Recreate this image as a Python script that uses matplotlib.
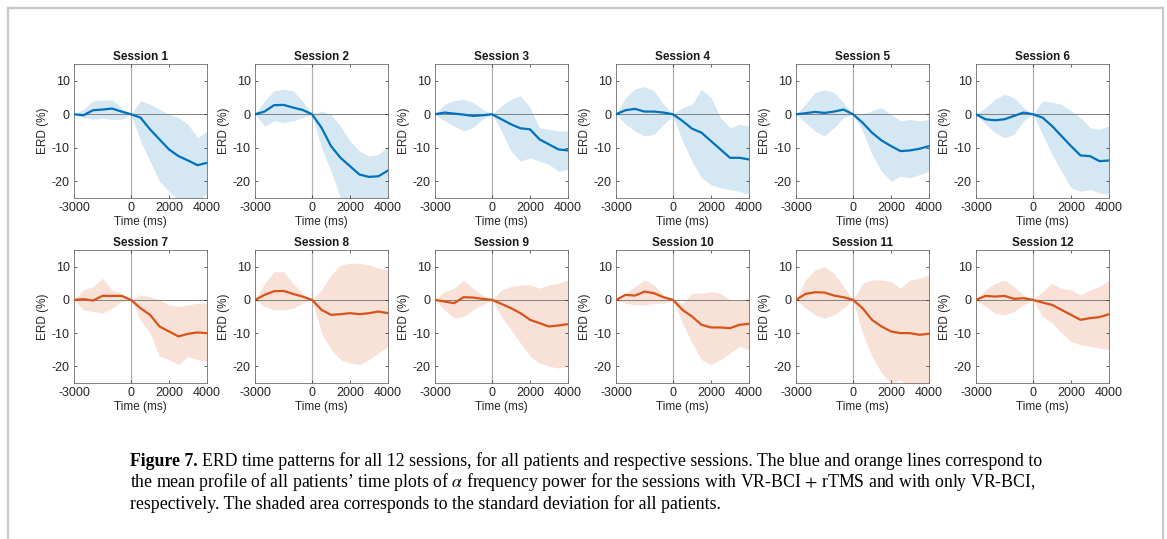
import numpy as np
import matplotlib
matplotlib.use("Agg")
import matplotlib.pyplot as plt
from matplotlib.lines import Line2D

# time axis of the ERD traces (ms)
time_ms = [-3000, -2500, -2000, -1500, -1000, -500, 0, 500,
           1000, 1500, 2000, 2500, 3000, 3500, 4000]

# mean ERD (%) per session
mean_erd = {
    1: [0, -0.3, 1.2, 1.4, 1.7, 0.8, 0, -1.0, -4.5, -7.5, -10.5, -12.5, -13.8, -15.2, -14.5],
    2: [0, 0.8, 2.7, 2.8, 2.0, 1.3, 0, -4.0, -9.5, -13.0, -15.5, -18.0, -18.7, -18.5, -16.8],
    3: [0, 0.5, 0.2, -0.1, -0.5, -0.3, 0, -1.5, -3.0, -4.2, -4.5, -7.5, -9.0, -10.5, -10.8],
    4: [0, 1.2, 1.6, 0.8, 0.8, 0.5, 0, -2.0, -4.3, -5.5, -8.0, -10.5, -13.0, -13.0, -13.5],
    5: [0, 0.3, 0.7, 0.4, 0.8, 1.4, 0, -2.5, -5.5, -7.8, -9.5, -11.0, -10.8, -10.3, -9.5],
    6: [0, -1.5, -1.8, -1.5, -0.5, 0.5, 0, -1.0, -3.5, -6.5, -9.5, -12.3, -12.5, -14.0, -13.8],
    7: [0, 0.2, -0.2, 1.2, 1.2, 1.2, 0, -2.5, -4.5, -8.0, -9.5, -11.0, -10.2, -9.8, -10.0],
    8: [0, 1.5, 2.6, 2.7, 1.8, 1.0, 0, -3.0, -4.5, -4.3, -4.0, -4.3, -4.0, -3.5, -4.0],
    9: [0, -0.5, -1.0, 0.8, 0.7, 0.3, 0, -1.2, -2.5, -4.0, -6.0, -7.0, -8.0, -7.7, -7.3],
    10: [0, 1.5, 1.3, 2.5, 2.0, 0.8, 0, -3.0, -5.0, -7.5, -8.3, -8.3, -8.5, -7.5, -7.2],
    11: [0, 1.8, 2.3, 2.2, 1.3, 0.8, 0, -2.5, -6.0, -8.0, -9.5, -10.0, -10.0, -10.5, -10.2],
    12: [0, 1.2, 1.0, 1.2, 0.3, 0.5, 0, -0.8, -1.5, -3.0, -4.5, -6.0, -5.5, -5.2, -4.3],
}

# upper / lower edge of the standard deviation band
upper_erd = {
    1: [0, 1.5, 4.0, 4.2, 4.3, 2.0, 0, 4.0, 3.0, 1.5, 0, -1.0, -3.0, -7.0, -5.0],
    2: [0, 4.0, 7.0, 7.5, 7.0, 4.0, 0, 1.0, 0, -3.5, -8.0, -11.0, -12.5, -12.0, -9.5],
    3: [0, 3.0, 4.0, 4.5, 3.5, 1.5, 0, 2.5, 4.5, 5.5, 2.0, -4.0, -4.5, -5.0, -5.0],
    4: [0, 5.0, 7.5, 8.3, 7.0, 3.0, 0, 2.0, 3.0, 7.5, 5.0, -1.0, -4.0, -3.0, -3.5],
    5: [0, 3.0, 6.5, 7.3, 6.5, 3.5, 0, 0, 1.0, 2.0, 0, -2.0, -1.5, -2.0, -1.5],
    6: [0, 2.0, 4.5, 6.0, 5.0, 2.0, 0, 4.0, 3.5, 3.0, 1.0, -1.0, -4.0, -4.5, -3.5],
    7: [0, 3.0, 4.0, 6.5, 3.0, 2.0, 0, 1.5, 1.0, 0, -1.5, -2.0, -1.5, -1.0, -1.0],
    8: [0, 5.0, 8.5, 8.5, 5.0, 2.0, 0, 3.0, 7.5, 10.5, 11.0, 11.0, 10.5, 9.5, 9.0],
    9: [0, 2.5, 3.5, 6.0, 3.5, 1.5, 0, 3.0, 4.0, 4.5, 4.5, 3.5, 4.5, 5.0, 6.0],
    10: [0, 2.0, 4.0, 6.0, 4.5, 1.5, 0, -1.0, 2.0, 2.0, 2.5, 2.0, 0, 0, 0.5],
    11: [0, 6.0, 9.0, 10.0, 8.0, 4.0, 0, 5.0, 6.0, 6.0, 5.5, 3.5, 6.0, 6.5, 7.5],
    12: [0, 3.0, 5.0, 6.0, 4.0, 1.5, 0, 2.5, 5.0, 3.5, 3.0, 1.5, 3.0, 4.0, 6.0],
}
lower_erd = {
    1: [0, -1.0, -1.5, -1.2, -1.5, -1.5, 0, -8.0, -14.0, -20.0, -23.0, -25.5, -27.0, -26.0, -23.5],
    2: [0, -3.5, -2.0, -2.5, -2.0, -1.0, 0, -10.0, -17.0, -25.0, -28.0, -28.0, -28.0, -27.0, -26.0],
    3: [0, -2.0, -3.5, -5.0, -4.0, -1.5, 0, -5.0, -11.0, -14.0, -13.0, -14.0, -15.0, -17.0, -16.5],
    4: [0, -3.0, -5.0, -6.5, -6.0, -3.0, -0.5, -8.0, -14.0, -19.0, -21.0, -22.0, -22.5, -23.0, -24.0],
    5: [0, -2.5, -5.0, -6.5, -4.0, -1.0, 0, -5.0, -12.0, -17.0, -20.0, -18.5, -19.0, -18.0, -17.0],
    6: [0, -3.0, -5.5, -7.0, -6.0, -2.0, 0, -6.0, -12.0, -17.0, -22.0, -23.0, -22.5, -23.5, -24.0],
    7: [0, -3.0, -3.5, -4.0, -2.5, -0.5, 0, -6.0, -10.0, -17.0, -18.0, -19.5, -17.0, -18.0, -18.5],
    8: [0, -2.0, -3.0, -3.0, -2.5, -1.0, 0, -10.0, -15.0, -18.0, -19.0, -19.5, -18.0, -16.0, -14.0],
    9: [0, -3.0, -5.5, -5.0, -3.0, -1.5, 0, -5.0, -9.0, -13.0, -17.0, -19.0, -20.0, -20.5, -20.0],
    10: [0, -1.0, -1.5, -1.5, -1.0, -1.0, 0, -7.0, -13.0, -18.0, -19.5, -18.0, -16.0, -14.0, -15.0],
    11: [0, -2.5, -4.5, -5.5, -4.5, -2.5, 0, -10.0, -17.0, -22.0, -25.0, -24.0, -27.0, -27.0, -26.0],
    12: [0, -2.0, -4.0, -4.5, -3.5, -1.5, 0, -5.0, -7.0, -10.0, -12.5, -13.5, -14.0, -14.5, -15.0],
}

xticks = [-3000, 0, 2000, 4000]
yticks = [-20, -10, 0, 10]

blue = '#0072BD'
orange = '#D95319'

plt.rcParams['font.family'] = ['Liberation Sans', 'DejaVu Sans']
plt.rcParams['mathtext.fontset'] = 'stix'
plt.rcParams['axes.unicode_minus'] = False

W, H = 1167, 539
fig = plt.figure(figsize=(W / 100, H / 100), dpi=100)

# outer light frame of the page crop
frame_kw = dict(color='#c8c8c8', lw=1.6, transform=fig.transFigure)
fig.add_artist(Line2D([8 / W, 8 / W], [0, 1 - 8 / H], **frame_kw))
fig.add_artist(Line2D([1163 / W, 1163 / W], [0, 1 - 8 / H], **frame_kw))
fig.add_artist(Line2D([8 / W, 1163 / W], [1 - 8 / H, 1 - 8 / H], **frame_kw))

lefts = [74, 255, 435, 616, 796, 976]
rows = [(64, 198), (250, 383)]
aw = 133

for s in range(1, 13):
    r = (s - 1) // 6
    c = (s - 1) % 6
    top, bot = rows[r]
    ax = fig.add_axes([lefts[c] / W, 1 - bot / H, aw / W, (bot - top) / H])
    col = blue if s <= 6 else orange
    ax.fill_between(time_ms, lower_erd[s], upper_erd[s], color=col, alpha=0.17, lw=0)
    ax.axhline(0, color='#808080', lw=0.7, zorder=1)
    ax.axvline(0, color='#b0b0b0', lw=0.9, zorder=1)
    ax.plot(time_ms, mean_erd[s], color=col, lw=1.6, zorder=3)
    ax.set_xlim(-3000, 4000)
    ax.set_ylim(-25, 15)
    ax.set_xticks(xticks)
    ax.set_yticks(yticks)
    ax.tick_params(direction='in', length=2.5, width=0.5, labelsize=9,
                   colors='#262626', top=True, right=True, pad=3)
    for sp in ax.spines.values():
        sp.set_color('#6e6e6e')
        sp.set_linewidth(0.6)
    ax.set_title(f'Session {s}', fontsize=8.5, fontweight='bold', pad=3, color='#1a1a1a')
    ax.set_xlabel('Time (ms)', fontsize=8.5, labelpad=1.5, color='#262626')
    ax.set_ylabel('ERD (%)', fontsize=8.5, labelpad=2, color='#262626')

# caption
serif = ['Liberation Serif', 'DejaVu Serif']
cap_fs = 12.8
cx = 130 / W
t1 = fig.text(cx, 1 - 461 / H, 'Figure 7.', family=serif, fontweight='bold',
              fontsize=cap_fs, va='center', ha='left')
fig.canvas.draw()
bb = t1.get_window_extent(fig.canvas.get_renderer())
fig.text(bb.x1 / W + 4 / W, 1 - 461 / H,
         'ERD time patterns for all 12 sessions, for all patients and respective sessions. '
         'The blue and orange lines correspond to',
         family=serif, fontsize=cap_fs, va='center', ha='left')
fig.text(cx, 1 - 482 / H,
         'the mean profile of all patients\u2019 time plots of $\\alpha$ frequency power for the '
         'sessions with VR-BCI $+$ rTMS and with only VR-BCI,',
         family=serif, fontsize=cap_fs, va='center', ha='left')
fig.text(cx, 1 - 504 / H,
         'respectively. The shaded area corresponds to the standard deviation for all patients.',
         family=serif, fontsize=cap_fs, va='center', ha='left')

fig.savefig('out.png', dpi=100)
